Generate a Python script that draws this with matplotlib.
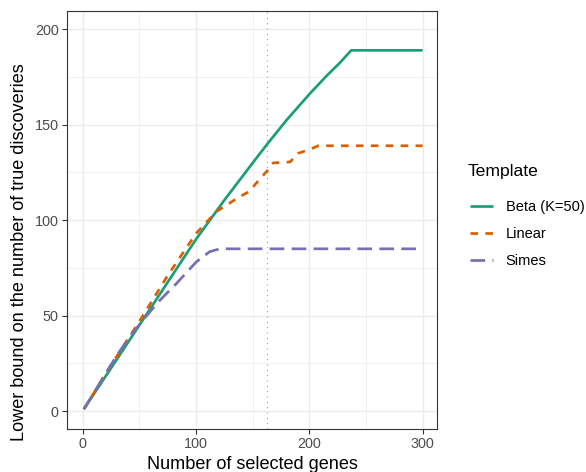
import matplotlib
matplotlib.use("Agg")
import matplotlib.pyplot as plt
from matplotlib.ticker import MultipleLocator

# breakpoints
beta_x = [1, 25, 50, 75, 100, 125, 150, 163, 180, 200, 215, 227, 237, 300]
beta_y = [1, 22.5, 45, 67.5, 90, 110.5, 130, 140, 152.5, 166, 175.5, 182.5, 189, 189]
linear_x = [1, 25, 50, 75, 100, 118, 139, 147, 154, 163, 168, 183, 190, 200, 208, 300]
linear_y = [1, 24, 47, 71, 93, 104.5, 112.5, 115, 120, 126, 130, 130.5, 135, 137, 139, 139]
simes_x = [1, 18, 31, 43, 55, 68, 83, 100, 112, 121, 300]
simes_y = [1, 17.5, 30, 40, 49, 58, 67, 78, 83.5, 85, 85]
cutoff = 163

SERIES = [
    ("Beta (K=50)", beta_x, beta_y, "#1B9E77", None),
    ("Linear", linear_x, linear_y, "#D95F02", (2.8, 2.7)),
    ("Simes", simes_x, simes_y, "#7570B3", (5.4, 2.7)),
]
FONT = "Liberation Sans"
W, H = 586, 472

plt.rcParams["font.family"] = [FONT, "DejaVu Sans"]
fig = plt.figure(figsize=(W / 100, H / 100), dpi=100)
ax = fig.add_axes([67.3 / W, 1 - 429 / H, (436.7 - 67.3) / W, (429 - 11) / H])

for label, xs, ys, color, dash in SERIES:
    line, = ax.plot(xs, ys, color=color, lw=1.95, label=label,
                    solid_capstyle="butt", dash_capstyle="butt", zorder=3)
    if dash:
        line.set_dashes(dash)

ax.axvline(cutoff, color="#9a9a9a", lw=0.8, dashes=(1, 3.8), zorder=2)

ax.set_xlim(-13.6, 312.4)
ax.set_ylim(-9.4, 209.6)
ax.xaxis.set_major_locator(MultipleLocator(100))
ax.xaxis.set_minor_locator(MultipleLocator(50))
ax.yaxis.set_major_locator(MultipleLocator(50))
ax.yaxis.set_minor_locator(MultipleLocator(25))
ax.grid(which="major", color="#EBEBEB", lw=0.95, zorder=0)
ax.grid(which="minor", color="#EBEBEB", lw=0.5, zorder=0)
ax.set_axisbelow(True)
for s in ax.spines.values():
    s.set_color("#333333")
    s.set_linewidth(0.8)
ax.tick_params(which="major", length=3.6, width=0.8, color="#333333",
               labelcolor="#4D4D4D", labelsize=10.4, pad=2.5)
ax.tick_params(which="minor", length=0)

fig.text(252 / W, 2.7 / H, "Number of selected genes", ha="center",
         va="baseline", fontsize=13.1)
fig.text(20 / W, 220 / H, "Lower bound on the number of true discoveries",
         ha="center", va="center", rotation=90, fontsize=13.1)

# legend title drawn separately so the gap under it matches the reference
fig.text(468 / W, 1 - 172 / H, "Template", ha="left", va="center",
         fontsize=12.6)
fig.legend(loc="upper left", bbox_to_anchor=(470 / W, 1 - 200 / H),
           frameon=False, fontsize=10.5, handlelength=1.55,
           handletextpad=0.9, labelspacing=0.9, borderpad=0,
           borderaxespad=0)

fig.savefig("out.png", dpi=100)
